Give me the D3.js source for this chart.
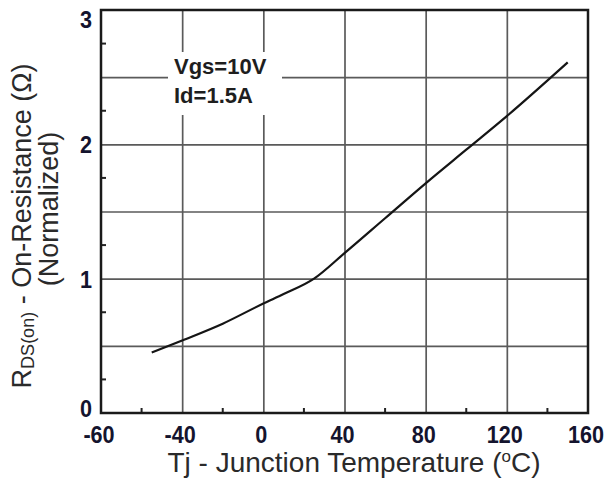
<!DOCTYPE html>
<html>
<head>
<meta charset="utf-8">
<script src="https://cdn.jsdelivr.net/npm/d3@7.9.0/dist/d3.min.js"></script>
<style>
  html, body { margin: 0; padding: 0; background: #fff; }
  svg { display: block; font-family: "Liberation Sans", Arial, sans-serif; }
  .grid line { stroke: #5a5a5a; stroke-width: 1.7; }
  .grid path { display: none; }
  .tick-label { font-size: 24px; font-weight: bold; fill: #14142e; }
</style>
</head>
<body>
<svg id="chart" width="609" height="480"></svg>
<script>
// junction temperature (°C) and normalized RDS(on)
const temps = [-55, -40, -20, 0, 10, 25, 40, 60, 80, 100, 120, 150];
const rdsOn = [0.45, 0.54, 0.665, 0.815, 0.885, 1.0, 1.19, 1.45, 1.71, 1.96, 2.21, 2.61];

// the printed chart labels its left edge "-60" although the grid spacing puts it at -80
const xTickValues = [-80, -40, 0, 40, 80, 120, 160];
const xTickLabels = ["-60", "-40", "0", "40", "80", "120", "160"];
const yTickValues = [0, 1, 2, 3];
const yTickLabels = ["0", "1", "2", "3"];

const noteLines = ["Vgs=10V", "Id=1.5A"];

const svg = d3.select('#chart');
const plotL = 101, plotR = 588, plotT = 10, plotB = 413;

const x = d3.scaleLinear().domain([-80, 160]).range([plotL, plotR]);
const y = d3.scaleLinear().domain([0, 3]).range([plotB, plotT]);

// grid
svg.append('g')
    .attr('class', 'grid')
    .attr('transform', `translate(0,${plotB})`)
    .call(d3.axisBottom(x).tickValues(d3.range(-40, 160, 40)).tickSize(-(plotB - plotT)).tickFormat(''));

svg.append('g')
    .attr('class', 'grid')
    .attr('transform', `translate(${plotL},0)`)
    .call(d3.axisLeft(y).tickValues(d3.range(0.5, 3, 0.5)).tickSize(-(plotR - plotL)).tickFormat(''));

// minor ticks pointing inward
svg.append('g')
    .selectAll('line')
    .data(d3.range(-60, 160, 40))
    .join('line')
    .attr('x1', d => x(d)).attr('x2', d => x(d))
    .attr('y1', plotB).attr('y2', plotB - 5)
    .attr('stroke', '#222').attr('stroke-width', 2);

svg.append('g')
    .selectAll('line')
    .data(d3.range(0.25, 3, 0.5))
    .join('line')
    .attr('x1', plotL).attr('x2', plotL + 5)
    .attr('y1', d => y(d)).attr('y2', d => y(d))
    .attr('stroke', '#222').attr('stroke-width', 2);

// frame
svg.append('rect')
    .attr('x', plotL).attr('y', plotT)
    .attr('width', plotR - plotL).attr('height', plotB - plotT)
    .attr('fill', 'none')
    .attr('stroke', '#1a1a1a')
    .attr('stroke-width', 2.5);

// curve
const line = d3.line()
    .x((d, i) => x(temps[i]))
    .y(d => y(d))
    .curve(d3.curveMonotoneX);

svg.append('path')
    .datum(rdsOn)
    .attr('d', line)
    .attr('fill', 'none')
    .attr('stroke', '#151515')
    .attr('stroke-width', 2.2);

// condition note with a white box over the grid
svg.append('rect')
    .attr('x', 168).attr('y', 52)
    .attr('width', 114).attr('height', 63)
    .attr('fill', '#fff');

svg.append('g')
    .selectAll('text')
    .data(noteLines)
    .join('text')
    .attr('x', 174)
    .attr('y', (d, i) => 74 + i * 29)
    .attr('font-size', 22)
    .attr('font-weight', 'bold')
    .attr('fill', '#1e1e1e')
    .text(d => d);

// tick labels (slightly narrow, as in the printed chart)
svg.append('g')
    .selectAll('text')
    .data(xTickValues)
    .join('text')
    .attr('class', 'tick-label')
    .attr('transform', d => `translate(${x(d) - 2},443) scale(0.9,1)`)
    .attr('text-anchor', 'middle')
    .text((d, i) => xTickLabels[i]);

svg.append('g')
    .selectAll('text')
    .data(yTickValues)
    .join('text')
    .attr('class', 'tick-label')
    .attr('transform', d => {
        const dy = d === 3 ? 18 : d === 0 ? 4 : 9;
        return `translate(92,${y(d) + dy}) scale(0.9,1)`;
    })
    .attr('text-anchor', 'end')
    .text((d, i) => yTickLabels[i]);

// axis titles
const xTitle = svg.append('text')
    .attr('x', 354)
    .attr('y', 472)
    .attr('text-anchor', 'middle')
    .attr('font-size', 28)
    .attr('fill', '#2a2a2a');
xTitle.append('tspan').text('Tj - Junction Temperature (');
xTitle.append('tspan').attr('font-size', 17).attr('dy', -10).text('o');
xTitle.append('tspan').attr('dy', 10).text('C)');

const yTitle = svg.append('text')
    .attr('transform', 'translate(31,226) rotate(-90)')
    .attr('text-anchor', 'middle')
    .attr('font-size', 27)
    .attr('fill', '#2a2a2a');
yTitle.append('tspan').text('R');
yTitle.append('tspan').attr('font-size', 18).attr('dy', 3).text('DS(on)');
yTitle.append('tspan').attr('dy', -3).text(' - On-Resistance (Ω)');

svg.append('text')
    .attr('transform', 'translate(58,209) rotate(-90)')
    .attr('text-anchor', 'middle')
    .attr('font-size', 27)
    .attr('fill', '#2a2a2a')
    .text('(Normalized)');
</script>
</body>
</html>
